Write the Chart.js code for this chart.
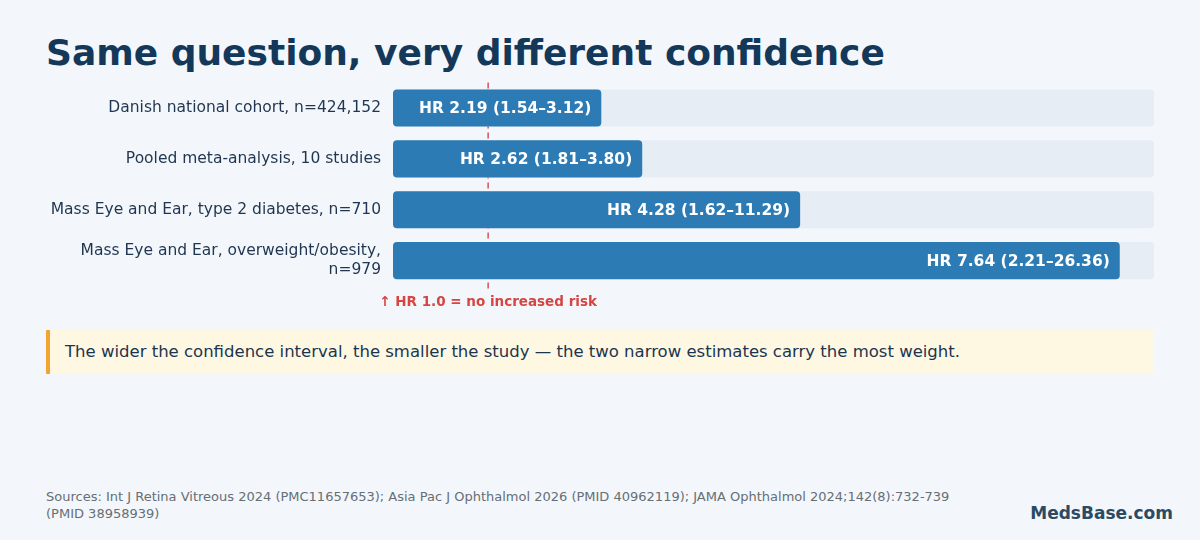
<!DOCTYPE html>
<html>
<head>
<meta charset="utf-8">
<script src="https://cdn.jsdelivr.net/npm/chart.js@4.4.1/dist/chart.umd.min.js"></script>
<style>
  html, body { margin:0; padding:0; background:#f3f7fb; }
  body { width:1200px; height:540px; position:relative; overflow:hidden; font-family:"DejaVu Sans", sans-serif; }
  #title { position:absolute; left:46px; top:32px; font-size:36px; font-weight:bold; color:#14385a; white-space:nowrap; }
  #chartWrap { position:absolute; left:0; top:60px; width:1200px; height:254px; }
  #note { position:absolute; left:46px; top:330px; width:1108px; height:44px; background:#fef8e3; border-left:4px solid #f2a533; box-sizing:border-box; padding-left:15px; line-height:44px; font-size:16.5px; color:#1b3550; }
  #src { position:absolute; left:46px; top:488px; font-size:13px; line-height:17px; color:#666e76; }
  #brand { position:absolute; right:27px; top:503px; font-size:17px; font-weight:bold; color:#2c4a63; }
</style>
</head>
<body>
<div id="title">Same question, very different confidence</div>
<div id="chartWrap"><canvas id="c"></canvas></div>
<div id="note">The wider the confidence interval, the smaller the study — the two narrow estimates carry the most weight.</div>
<div id="src">Sources: Int J Retina Vitreous 2024 (PMC11657653); Asia Pac J Ophthalmol 2026 (PMID 40962119); JAMA Ophthalmol 2024;142(8):732-739<br>(PMID 38958939)</div>
<div id="brand">MedsBase.com</div>
<script>
const categories = [
  "Danish national cohort, n=424,152",
  "Pooled meta-analysis, 10 studies",
  "Mass Eye and Ear, type 2 diabetes, n=710",
  ["Mass Eye and Ear, overweight/obesity,", "n=979"]
];
const hazardRatios = [2.19, 2.62, 4.28, 7.64];
const ciLow = [1.54, 1.81, 1.62, 2.21];
const ciHigh = [3.12, 3.80, 11.29, 26.36];
const axisMax = 8;
const trackValues = categories.map(() => axisMax);
const referenceHR = 1.0;
const referenceLabel = "↑ HR 1.0 = no increased risk";

const fmt = v => v.toFixed(2);
const barLabels = hazardRatios.map((v, i) => `HR ${fmt(v)} (${fmt(ciLow[i])}–${fmt(ciHigh[i])})`);

const refLinePlugin = {
  id: 'refLine',
  beforeDatasetsDraw(chart) {
    const {ctx, chartArea, scales} = chart;
    const x = scales.x.getPixelForValue(referenceHR);
    ctx.save();
    ctx.strokeStyle = '#d9534f';
    ctx.lineWidth = 1.5;
    ctx.setLineDash([6, 4]);
    ctx.beginPath();
    ctx.moveTo(x, chartArea.top);
    ctx.lineTo(x, chartArea.bottom + 4);
    ctx.stroke();
    ctx.restore();
  },
  afterDraw(chart) {
    const {ctx, chartArea, scales} = chart;
    const x = scales.x.getPixelForValue(referenceHR);
    ctx.save();
    ctx.fillStyle = '#d64541';
    ctx.font = 'bold 13.5px "DejaVu Sans"';
    ctx.textAlign = 'center';
    ctx.textBaseline = 'middle';
    ctx.fillText(referenceLabel, x, chartArea.bottom + 16);
    ctx.restore();
  }
};

const barLabelPlugin = {
  id: 'barLabels',
  afterDatasetsDraw(chart) {
    const {ctx} = chart;
    const meta = chart.getDatasetMeta(1);
    ctx.save();
    ctx.fillStyle = '#ffffff';
    ctx.font = 'bold 15.5px "DejaVu Sans"';
    ctx.textAlign = 'right';
    ctx.textBaseline = 'middle';
    meta.data.forEach((bar, i) => {
      ctx.fillText(barLabels[i], bar.x - 10, bar.y + 1);
    });
    ctx.restore();
  }
};

new Chart(document.getElementById('c'), {
  type: 'bar',
  data: {
    labels: categories,
    datasets: [
      {
        label: 'track',
        data: trackValues,
        backgroundColor: '#e6edf5',
        borderRadius: 4,
        borderSkipped: false,
        grouped: false,
        order: 2,
        barPercentage: 0.73,
        categoryPercentage: 1
      },
      {
        label: 'HR',
        data: hazardRatios,
        backgroundColor: '#2c7bb4',
        borderRadius: 4,
        borderSkipped: false,
        grouped: false,
        order: 1,
        barPercentage: 0.73,
        categoryPercentage: 1
      }
    ]
  },
  options: {
    indexAxis: 'y',
    responsive: true,
    maintainAspectRatio: false,
    animation: false,
    layout: { padding: { top: 8, bottom: 28, right: 46, left: 0 } },
    plugins: { legend: { display: false }, tooltip: { enabled: false } },
    scales: {
      x: {
        min: 0, max: axisMax,
        display: false,
        grid: { display: false }
      },
      y: {
        grid: { display: false },
        border: { display: false },
        ticks: {
          color: '#1f3550',
          font: { family: '"DejaVu Sans"', size: 15.5 },
          padding: 4
        },
        afterFit(scale) { scale.width = 393; }
      }
    }
  },
  plugins: [refLinePlugin, barLabelPlugin]
});
</script>
</body>
</html>
